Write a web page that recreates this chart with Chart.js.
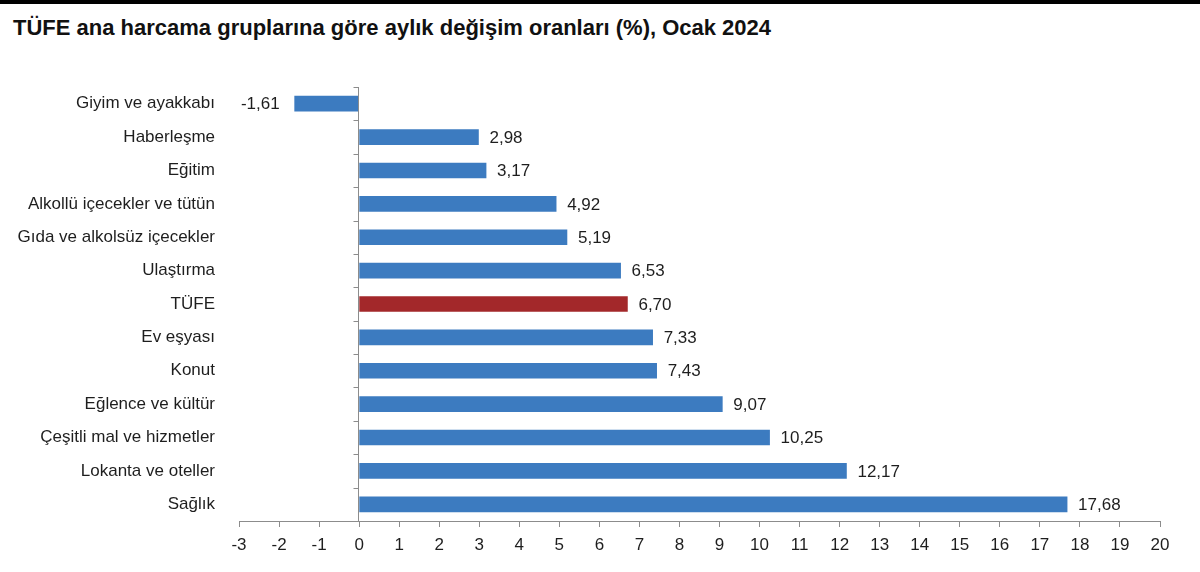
<!DOCTYPE html>
<html lang="tr">
<head>
<meta charset="utf-8">
<title>TÜFE aylık değişim</title>
<script src="https://cdn.jsdelivr.net/npm/chart.js@4.4.1/dist/chart.umd.min.js"></script>
<style>
  body { margin: 0; background: #fff; }
  #wrap { position: relative; width: 1200px; height: 572px; overflow: hidden; }
  #topbar { position: absolute; left: 0; top: 0; width: 1200px; height: 4px; background: #000; }
  #title {
    position: absolute; left: 13px; top: 17px;
    font: bold 22px "Liberation Sans", Arial, sans-serif; line-height: 22px;
    color: #111; white-space: nowrap;
  }
  canvas { position: absolute; left: 0; top: 0; }
</style>
</head>
<body>
<div id="wrap">
  <div id="topbar"></div>
  <div id="title">TÜFE ana harcama gruplarına göre aylık değişim oranları (%), Ocak 2024</div>
  <canvas id="chart" width="1200" height="572"></canvas>
</div>
<script>
// kategoriler ve değerler (%)
const categories = [
    'Giyim ve ayakkabı', 'Haberleşme', 'Eğitim', 'Alkollü içecekler ve tütün',
    'Gıda ve alkolsüz içecekler', 'Ulaştırma', 'TÜFE', 'Ev eşyası', 'Konut',
    'Eğlence ve kültür', 'Çeşitli mal ve hizmetler', 'Lokanta ve oteller', 'Sağlık'
];
const values = [-1.61, 2.98, 3.17, 4.92, 5.19, 6.53, 6.70, 7.33, 7.43, 9.07, 10.25, 12.17, 17.68];
const xTickMin = -3;
const xTickMax = 20;
const highlight = 'TÜFE';

const FONT = '"Liberation Sans", Arial, sans-serif';
const blue = '#3c7bc0';
const red = '#a3282a';
const axisGray = '#8c8c8c';
const textColor = '#1e1e1e';

// sıfır ekseni + kategori çentikleri
const zeroAxis = {
    id: 'zeroAxis',
    afterDatasetsDraw(chart) {
        const { ctx, chartArea, scales: { x, y } } = chart;
        const x0 = Math.round(x.getPixelForValue(0)) - 0.5;
        const band = (chartArea.bottom - chartArea.top) / categories.length;
        ctx.save();
        ctx.strokeStyle = axisGray;
        ctx.lineWidth = 1;
        ctx.beginPath();
        ctx.moveTo(x0, chartArea.top);
        ctx.lineTo(x0, chartArea.bottom);
        for (let i = 0; i <= categories.length; i++) {
            const yy = Math.round(chartArea.top + i * band) + 0.5;
            ctx.moveTo(x0 - 5, yy);
            ctx.lineTo(x0, yy);
        }
        ctx.stroke();
        ctx.restore();
    }
};

// değer etiketleri
const valueLabels = {
    id: 'valueLabels',
    afterDatasetsDraw(chart) {
        const { ctx } = chart;
        const meta = chart.getDatasetMeta(0);
        ctx.save();
        ctx.font = '17px ' + FONT;
        ctx.fillStyle = textColor;
        ctx.textBaseline = 'middle';
        meta.data.forEach((bar, i) => {
            const v = values[i];
            const txt = v.toFixed(2).replace('.', ',');
            if (v >= 0) {
                ctx.textAlign = 'left';
                ctx.fillText(txt, bar.x + 11, bar.y + 1);
            } else {
                ctx.textAlign = 'right';
                ctx.fillText(txt, bar.x - 15, bar.y + 1);
            }
        });
        ctx.restore();
    }
};

new Chart(document.getElementById('chart').getContext('2d'), {
    type: 'bar',
    data: {
        labels: categories,
        datasets: [{
            data: values,
            backgroundColor: categories.map(c => c === highlight ? red : blue),
            barThickness: 15
        }]
    },
    options: {
        indexAxis: 'y',
        responsive: false,
        animation: false,
        layout: { padding: { top: 87, right: 40, left: 0, bottom: 0 } },
        plugins: {
            legend: { display: false },
            tooltip: { enabled: false }
        },
        scales: {
            x: {
                min: xTickMin,
                max: xTickMax,
                afterFit: s => { s.height = 51; },
                border: { display: true, color: axisGray, width: 1 },
                grid: { drawOnChartArea: false, drawTicks: true, tickLength: 6, color: axisGray },
                ticks: {
                    stepSize: 1,
                    padding: 8,
                    color: textColor,
                    font: { family: FONT, size: 17 },
                    callback: v => String(v)
                }
            },
            y: {
                afterFit: s => { s.width = 239; },
                border: { display: false },
                grid: { display: false },
                ticks: {
                    padding: 16,
                    color: textColor,
                    font: { family: FONT, size: 17 }
                }
            }
        }
    },
    plugins: [zeroAxis, valueLabels]
});
</script>
</body>
</html>
